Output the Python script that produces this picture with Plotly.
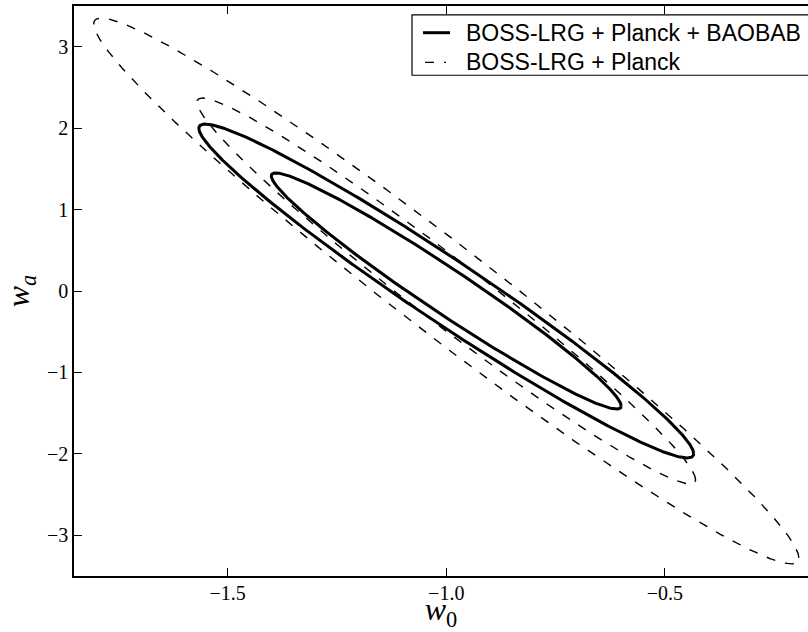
import numpy as np
import plotly.graph_objects as go

# Best-fit point in the (w0, wa) plane
center_w0 = -1.0
center_wa = 0.0

# Data combinations, their 1-sigma widths and w0-wa correlation
datasets = ["BOSS-LRG + Planck + BAOBAB", "BOSS-LRG + Planck"]
sigma_w0 = [0.40, 0.57]
sigma_wa = [1.45, 2.37]
corr_w0_wa = [-0.974, -0.978]

# Delta chi^2 of the inner and outer contour of each combination
delta_chi2 = [1.0, 2.0]

# Axis ranges and tick positions
x_range = [-1.851, -0.173]
y_range = [-3.5, 3.5]
x_ticks = [-1.5, -1.0, -0.5]
y_ticks = [-3, -2, -1, 0, 1, 2, 3]

W, H = 808, 632
M = dict(l=74, r=0, t=6, b=50)
PW = W - M["l"] - M["r"]
PH = H - M["t"] - M["b"]


def px(x):
    return (x - M["l"]) / PW


def py(y):
    return (H - M["b"] - y) / PH


def contour(sx, sy, rho, d2, n=721):
    t = np.linspace(0.0, 2.0 * np.pi, n)
    k = np.sqrt(d2)
    x = center_w0 + k * sx * np.cos(t)
    y = center_wa + k * sy * (rho * np.cos(t) + np.sqrt(1.0 - rho ** 2) * np.sin(t))
    return x, y


styles = [
    dict(color="black", width=3.0, dash="solid"),
    dict(color="black", width=1.4, dash="9px,10px"),
]

fig = go.Figure()
for i, name in enumerate(datasets):
    for d2 in delta_chi2:
        x, y = contour(sigma_w0[i], sigma_wa[i], corr_w0_wa[i], d2)
        fig.add_trace(go.Scatter(
            x=x, y=y, mode="lines", name=name, showlegend=False,
            line=styles[i], hoverinfo="skip",
        ))

# Legend box drawn by hand so that it can run past the right edge
shapes = [
    dict(type="rect", xref="paper", yref="paper",
         x0=px(412), x1=px(860), y0=py(76), y1=py(15),
         line=dict(color="black", width=1.2), fillcolor="white", layer="above"),
    dict(type="line", xref="paper", yref="paper",
         x0=px(423), x1=px(450), y0=py(33), y1=py(33),
         line=dict(color="black", width=3), layer="above"),
    dict(type="line", xref="paper", yref="paper",
         x0=px(425), x1=px(446), y0=py(63), y1=py(63),
         line=dict(color="black", width=1.4, dash="9px,10px"), layer="above"),
]
annotations = [
    dict(text=datasets[0], xref="paper", yref="paper", x=px(464), y=py(33),
         xanchor="left", yanchor="middle", showarrow=False,
         font=dict(family="Liberation Sans", size=23, color="black")),
    dict(text=datasets[1], xref="paper", yref="paper", x=px(464), y=py(63),
         xanchor="left", yanchor="middle", showarrow=False,
         font=dict(family="Liberation Sans", size=23, color="black")),
]

axis_common = dict(
    showgrid=False, zeroline=False, showline=True,
    linecolor="black", linewidth=1.6,
    ticks="inside", ticklen=8, tickwidth=1, tickcolor="black",
    tickfont=dict(family="Liberation Serif", size=20, color="black"),
    title_font=dict(family="Liberation Serif", size=32, color="black"),
)

fig.update_layout(
    width=W, height=H, margin=M, autosize=False,
    paper_bgcolor="white", plot_bgcolor="white",
    shapes=shapes, annotations=annotations,
    xaxis=dict(axis_common, range=x_range, tickvals=x_ticks, tickformat=".1f",
               mirror="ticks", ticklabelstandoff=-2,
               title=dict(text="<i>w</i><sub>0</sub>", standoff=6)),
    yaxis=dict(axis_common, range=y_range, tickvals=y_ticks, tickformat="d",
               mirror=False,
               title=dict(text="<i>w<sub>a</sub></i>", standoff=13)),
)

fig.write_html("out.html")
